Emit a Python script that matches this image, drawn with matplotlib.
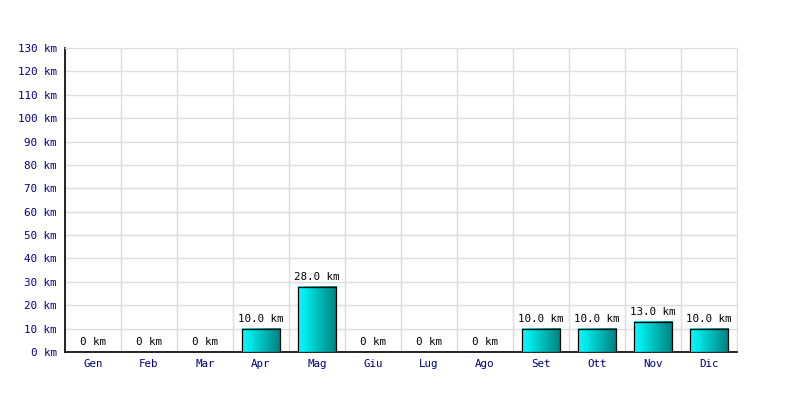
import numpy as np
import matplotlib.pyplot as plt
from matplotlib.colors import LinearSegmentedColormap

mesi = ["Gen", "Feb", "Mar", "Apr", "Mag", "Giu", "Lug", "Ago", "Set", "Ott", "Nov", "Dic"]
km = [0, 0, 0, 10.0, 28.0, 0, 0, 0, 10.0, 10.0, 13.0, 10.0]
yticks = list(range(0, 131, 10))

plt.rcParams['font.family'] = ['DejaVu Sans Mono']

fig = plt.figure(figsize=(8, 4), dpi=100)
ax = fig.add_axes([65/800, 48/400, 672/800, 304/400])

x = np.arange(len(mesi))
w = 0.68
cmap = LinearSegmentedColormap.from_list("cy", ["#00ffff", "#008080"])
grad = np.linspace(0, 1, 64).reshape(1, -1)

for xi, v in zip(x, km):
	if v > 0:
		ax.imshow(grad, cmap=cmap, aspect="auto", extent=(xi - w/2, xi + w/2, 0, v), zorder=3)
		ax.bar(xi, v, w, facecolor="none", edgecolor="black", linewidth=0.9, zorder=4)
		lab = "%.1f km" % v
	else:
		lab = "0 km"
	ax.text(xi, v + 2, lab, ha="center", va="bottom", fontsize=7.8, color="black", zorder=5)

ax.set_xlim(-0.5, len(mesi) - 0.5)
ax.set_ylim(0, 130)
ax.set_xticks(x)
ax.set_xticklabels(mesi)
ax.set_yticks(yticks)
ax.set_yticklabels(["%d km" % t for t in yticks])
ax.set_xticks(np.arange(-0.5, len(mesi), 1), minor=True)
ax.tick_params(axis="x", which="major", length=0, pad=5, colors="#000080", labelsize=7.8)
ax.tick_params(axis="x", which="minor", length=0)
ax.tick_params(axis="y", length=0, colors="#000080", labelsize=7.8, pad=6)
ax.grid(True, which="minor", axis="x", color="#dddddd", linewidth=1, zorder=0)
ax.grid(True, which="major", axis="y", color="#dddddd", linewidth=1, zorder=0)
ax.set_axisbelow(True)

for s in ["top", "right"]:
	ax.spines[s].set_color("#dddddd")
for s in ["left", "bottom"]:
	ax.spines[s].set_color("black")
	ax.spines[s].set_linewidth(1.2)

fig.savefig("out.png", dpi=100)
